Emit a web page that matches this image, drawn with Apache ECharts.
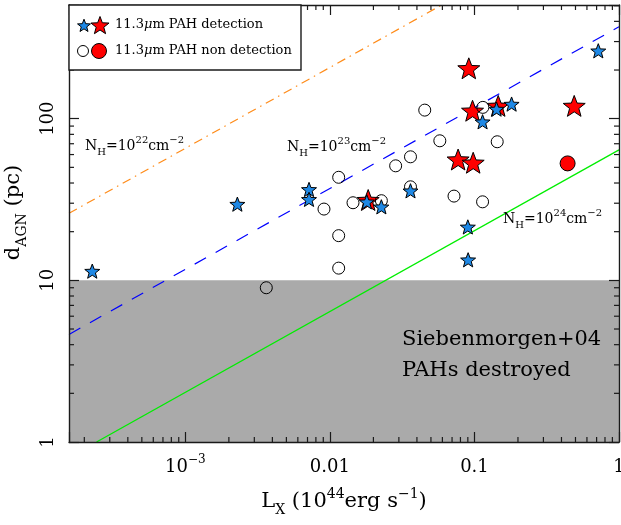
<!DOCTYPE html>
<html><head><meta charset="utf-8">
<script src="https://cdn.jsdelivr.net/npm/echarts@6/dist/echarts.min.js"></script>
<style>html,body{margin:0;padding:0;background:#fff}#c{width:621px;height:525px}</style>
</head><body><div id="c"></div>
<script>
// ---- data: [L_X (1e44 erg/s), d_AGN (pc)] ----
const pahDetectionBlue = [
  [2.27e-4, 11.4], [2.29e-3, 29.6], [7.17e-3, 36.5], [7.17e-3, 31.7], [0.0180, 30.6],
  [0.0227, 28.5], [0.0361, 35.8], [0.090, 21.4], [0.0904, 13.4], [0.719, 263],
  [0.1138, 95.7], [0.1422, 114.6], [0.1807, 123.1]
];
const pahDetectionRed = [
  [0.0914, 205], [0.097, 112], [0.146, 120], [0.490, 120], [0.0771, 55.9],
  [0.098, 53.4], [0.0184, 31.4]
];
const pahNonDetectionOpen = [
  [3.63e-3, 9.0], [0.0115, 43.4], [9.1e-3, 27.6], [0.0115, 18.9], [0.0115, 11.9],
  [0.01445, 30.2], [0.0227, 31.1], [0.0285, 51.1], [0.0361, 58.1], [0.0361, 37.9],
  [0.0722, 33.2], [0.1138, 30.6], [0.0453, 113], [0.0576, 73.0], [0.1437, 72.0],
  [0.1143, 117.5]
];
const pahNonDetectionRed = [[0.441, 52.9]];
const nh22Line = [[1.567e-4, 25.97], [0.0593, 505]];
const nh23Line = [[1.567e-4, 4.63], [1, 370]];
const nh24Line = [[2.43e-4, 1], [1, 64.1]];
const destroyedZone = [1, 10];
const xRange = [1.567e-4, 1];
const yRange = [1, 505];
const xTickValues = [0.001, 0.01, 0.1, 1];
const xTickLabels = ['{n|10}{sup|−3}', '{n|0.01}', '{n|0.1}', '{n|1}'];
const yTickValues = [1, 10, 100];
const yTickLabels = ['1', '10', '100'];
const xMinorTicks = [];
const yMinorTicks = [];
for (let k = -4; k <= 0; k++) for (let m = 2; m <= 9; m++) { const v = m * Math.pow(10, k); if (v > xRange[0] && v < xRange[1]) xMinorTicks.push(v); }
for (let k = 0; k <= 2; k++) for (let m = 2; m <= 9; m++) { const v = m * Math.pow(10, k); if (v > yRange[0] && v < yRange[1]) yMinorTicks.push(v); }

const F = 'DejaVu Serif';
const AX = '#1a1a1a';
const STAR = 'path://M50,0L62.35,33.01L97.55,34.55L69.97,56.49L79.39,90.45L50,71L20.61,90.45L30.03,56.49L2.45,34.55L37.65,33.01Z';

function starPoints(cx, cy, R) {
  const pts = [];
  for (let i = 0; i < 10; i++) {
    const a = (-90 + 36 * i) * Math.PI / 180;
    const r = i % 2 === 0 ? R : R * 0.42;
    pts.push([cx + r * Math.cos(a), cy + r * Math.sin(a)]);
  }
  return pts;
}
function rich(size, small, color, lh) {
  return {
    n: {fontFamily: F, fontSize: size, lineHeight: lh, verticalAlign: 'middle', color: color},
    sup: {fontFamily: F, fontSize: small, lineHeight: Math.round(lh / 2), verticalAlign: 'top', color: color},
    sub: {fontFamily: F, fontSize: small, lineHeight: Math.round(lh / 2.3), verticalAlign: 'bottom', color: color},
    i: {fontFamily: F, fontSize: size, fontStyle: 'italic', lineHeight: lh, verticalAlign: 'middle', color: color}
  };
}
function matchTick(v, vals) {
  for (let i = 0; i < vals.length; i++) if (Math.abs(Math.log10(v) - Math.log10(vals[i])) < 1e-6) return i;
  return -1;
}

const axisCommon = {
  type: 'log', logBase: 10, z: 10,
  axisLine: {show: true, onZero: false, lineStyle: {color: AX, width: 1.4}},
  axisTick: {show: true, inside: true, length: 10, lineStyle: {color: AX, width: 1.2}},
  splitLine: {show: false}, minorTick: {show: false}, minorSplitLine: {show: false}
};

function minorTickSeries(values, dir) {
  return {
    type: 'custom', silent: true, z: 11, clip: false,
    data: values.map(v => dir === 'x' ? [v, yRange[0]] : [xRange[0], v]),
    renderItem: function (params, api) {
      const cs = params.coordSys;
      const p = api.coord([api.value(0), api.value(1)]);
      const L = 5, st = {stroke: AX, lineWidth: 1.2};
      if (dir === 'x') {
        return {type: 'group', children: [
          {type: 'line', shape: {x1: p[0], y1: cs.y + cs.height, x2: p[0], y2: cs.y + cs.height - L}, style: st},
          {type: 'line', shape: {x1: p[0], y1: cs.y, x2: p[0], y2: cs.y + L}, style: st}
        ]};
      }
      return {type: 'group', children: [
        {type: 'line', shape: {x1: cs.x, y1: p[1], x2: cs.x + L, y2: p[1]}, style: st},
        {type: 'line', shape: {x1: cs.x + cs.width, y1: p[1], x2: cs.x + cs.width - L, y2: p[1]}, style: st}
      ]};
    }
  };
}

const chart = echarts.init(document.getElementById('c'), null, {renderer: 'canvas'});
chart.setOption({
  animation: false,
  backgroundColor: '#fff',
  grid: {left: 69, right: 2, top: 5, bottom: 83, containLabel: false, outerBoundsMode: 'none'},
  xAxis: [
    Object.assign({}, axisCommon, {
      position: 'bottom', min: xRange[0], max: xRange[1],
      axisLabel: {margin: 12, rich: rich(18, 12, '#000', 26),
        formatter: v => { const i = matchTick(v, xTickValues); return i < 0 ? '' : xTickLabels[i]; }},
      name: '{n|L}{sub|X}{n| (10}{sup|44}{n|erg s}{sup|−1}{n|)}',
      nameLocation: 'middle', nameGap: 45,
      nameTextStyle: {rich: rich(21, 14, '#000', 30)}
    }),
    Object.assign({}, axisCommon, {position: 'top', min: xRange[0], max: xRange[1], axisLabel: {show: false}})
  ],
  yAxis: [
    Object.assign({}, axisCommon, {
      position: 'left', min: yRange[0], max: yRange[1],
      axisLabel: {margin: 12, rotate: 90, fontFamily: F, fontSize: 18, color: '#000',
        formatter: v => { const i = matchTick(v, yTickValues); return i < 0 ? '' : yTickLabels[i]; }},
      name: '{n|d}{sub|AGN}{n| (pc)}',
      nameLocation: 'middle', nameGap: 40, nameRotate: 90,
      nameTextStyle: {rich: rich(21, 14, '#000', 30), padding: [0, 0, 0, 22]}
    }),
    Object.assign({}, axisCommon, {position: 'right', min: yRange[0], max: yRange[1], axisLabel: {show: false}})
  ],
  series: [
    {type: 'line', data: [], z: 1, silent: true,
      markArea: {silent: true, itemStyle: {color: '#aaaaaa', opacity: 1},
        data: [[{yAxis: destroyedZone[0]}, {yAxis: destroyedZone[1]}]]}},
    {type: 'line', data: nh22Line, showSymbol: false, z: 2, silent: true,
      lineStyle: {color: '#ff8c1a', width: 1.2, type: [9, 5, 1.5, 5]}},
    {type: 'line', data: nh23Line, showSymbol: false, z: 2, silent: true,
      lineStyle: {color: '#0000ff', width: 1.2, type: [13, 11]}},
    {type: 'line', data: nh24Line, showSymbol: false, z: 2, silent: true,
      lineStyle: {color: '#00ee00', width: 1.3}},
    {type: 'scatter', data: pahDetectionRed, symbol: STAR, symbolKeepAspect: true, symbolSize: 22, z: 3,
      itemStyle: {color: '#ff0000', borderColor: '#000', borderWidth: 1, opacity: 1}},
    {type: 'scatter', data: pahNonDetectionOpen, symbol: 'circle', symbolSize: 12, z: 4,
      itemStyle: {color: 'rgba(0,0,0,0)', borderColor: '#000', borderWidth: 1, opacity: 1}},
    {type: 'scatter', data: pahNonDetectionRed, symbol: 'circle', symbolSize: 15, z: 4,
      itemStyle: {color: '#ff0000', borderColor: '#000', borderWidth: 1, opacity: 1}},
    {type: 'scatter', data: pahDetectionBlue, symbol: STAR, symbolKeepAspect: true, symbolSize: 15, z: 5,
      itemStyle: {color: '#1e88e5', borderColor: '#000', borderWidth: 1, opacity: 1}},
    minorTickSeries(xMinorTicks, 'x'),
    minorTickSeries(yMinorTicks, 'y')
  ],
  graphic: [
    {type: 'rect', z: 20, shape: {x: 69, y: 5, width: 232, height: 65}, style: {fill: '#fff', stroke: AX, lineWidth: 1.4}},
    {type: 'polygon', z: 21, shape: {points: starPoints(84, 26, 6.8)}, style: {fill: '#1e88e5', stroke: '#000', lineWidth: 1}},
    {type: 'polygon', z: 21, shape: {points: starPoints(100, 26, 9.5)}, style: {fill: '#ff0000', stroke: '#000', lineWidth: 1}},
    {type: 'circle', z: 21, shape: {cx: 83, cy: 51, r: 5.5}, style: {fill: 'none', stroke: '#000', lineWidth: 1}},
    {type: 'circle', z: 21, shape: {cx: 99, cy: 51, r: 7.5}, style: {fill: '#ff0000', stroke: '#000', lineWidth: 1}},
    {type: 'text', z: 21, x: 115, y: 25, style: {text: '{n|11.3}{i|μ}{n|m PAH detection}', rich: rich(13, 9, '#000', 16), verticalAlign: 'middle'}},
    {type: 'text', z: 21, x: 115, y: 51, style: {text: '{n|11.3}{i|μ}{n|m PAH non detection}', rich: rich(13, 9, '#000', 16), verticalAlign: 'middle'}},
    {type: 'text', z: 21, x: 85, y: 146, style: {text: '{n|N}{sub|H}{n|=10}{sup|22}{n|cm}{sup|−2}', rich: rich(14, 10, '#ff8c1a', 22), verticalAlign: 'middle'}},
    {type: 'text', z: 21, x: 287, y: 147, style: {text: '{n|N}{sub|H}{n|=10}{sup|23}{n|cm}{sup|−2}', rich: rich(14, 10, '#0000ff', 22), verticalAlign: 'middle'}},
    {type: 'text', z: 21, x: 503, y: 219, style: {text: '{n|N}{sub|H}{n|=10}{sup|24}{n|cm}{sup|−2}', rich: rich(14, 10, '#00ee00', 22), verticalAlign: 'middle'}},
    {type: 'text', z: 21, x: 402, y: 340, style: {text: 'Siebenmorgen+04', fontFamily: F, fontSize: 21, fill: '#000', verticalAlign: 'middle'}},
    {type: 'text', z: 21, x: 402, y: 371, style: {text: 'PAHs destroyed', fontFamily: F, fontSize: 21, fill: '#000', verticalAlign: 'middle'}}
  ]
});
</script></body></html>
